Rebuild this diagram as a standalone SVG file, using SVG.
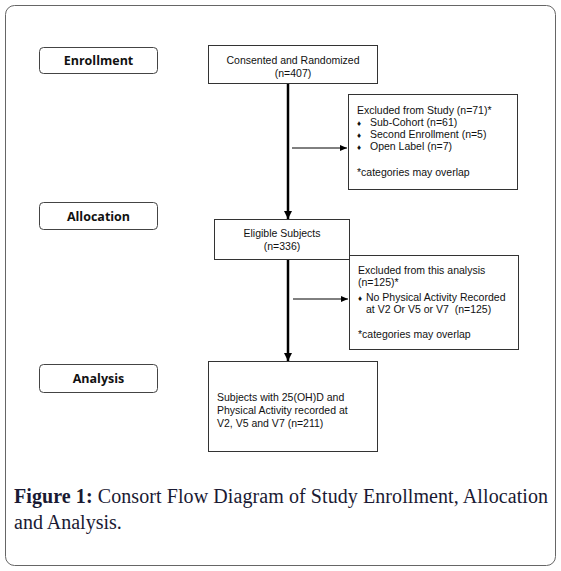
<svg xmlns="http://www.w3.org/2000/svg" width="561" height="571" viewBox="0 0 561 571">
<defs>
<style>
.box{fill:#fff;stroke:#333;stroke-width:1}
.lbl{fill:#fff;stroke:#444;stroke-width:1}
.t{font-family:"Liberation Sans",Arial,sans-serif;font-size:10.5px;fill:#111}
.b{font-size:8px}
.h{font-family:"Open Sans","Liberation Sans",sans-serif;font-size:12.5px;font-weight:bold;fill:#111}
.cap{font-family:"Liberation Serif","Times New Roman",serif;font-size:20px;fill:#1a1a33}
.thick{stroke:#000;stroke-width:2.5;fill:none}
.thin{stroke:#000;stroke-width:1;fill:none}
</style>
<marker id="ah" markerWidth="8" markerHeight="8" refX="7" refY="4" orient="auto" markerUnits="userSpaceOnUse">
<path d="M0,1 L7,4 L0,7 Z" fill="#000"/>
</marker>
<marker id="ahb" markerWidth="10" markerHeight="10" refX="8" refY="5" orient="auto" markerUnits="userSpaceOnUse">
<path d="M0,1 L8,5 L0,9 Z" fill="#000"/>
</marker>
</defs>
<rect x="5.5" y="5.5" width="550" height="560" rx="9" fill="#fff" stroke="#666" stroke-width="1"/>
<g id="connectors">
<line class="thick" x1="288" y1="84" x2="288" y2="219" marker-end="url(#ahb)"/>
<line class="thick" x1="288" y1="260" x2="288" y2="361" marker-end="url(#ahb)"/>
<line class="thin" x1="292" y1="148" x2="347" y2="148" marker-end="url(#ah)"/>
<line class="thin" x1="293" y1="299" x2="348" y2="299" marker-end="url(#ah)"/>
</g>
<g id="enrollment">
<rect class="lbl" x="39.5" y="47.5" width="118" height="26" rx="4"/>
<text class="h" x="98.5" y="65" text-anchor="middle">Enrollment</text>
</g>
<g id="allocation">
<rect class="lbl" x="39.5" y="202.5" width="118" height="27" rx="4"/>
<text class="h" x="98.5" y="220.5" text-anchor="middle">Allocation</text>
</g>
<g id="analysis">
<rect class="lbl" x="39.5" y="364.5" width="118" height="28" rx="4"/>
<text class="h" x="98.5" y="383" text-anchor="middle">Analysis</text>
</g>
<g id="consented">
<rect class="box" x="208.5" y="45.5" width="169" height="38"/>
<text class="t" x="293" y="64" text-anchor="middle">Consented and Randomized</text>
<text class="t" x="293" y="76.5" text-anchor="middle">(n=407)</text>
</g>
<g id="excluded1">
<rect class="box" x="348.5" y="94.5" width="169" height="95"/>
<text class="t" x="357" y="114">Excluded from Study (n=71)*</text>
<text class="t" x="357" y="126"><tspan class="b">♦</tspan><tspan x="370">Sub-Cohort (n=61)</tspan></text>
<text class="t" x="357" y="138"><tspan class="b">♦</tspan><tspan x="370">Second Enrollment (n=5)</tspan></text>
<text class="t" x="357" y="150"><tspan class="b">♦</tspan><tspan x="370">Open Label (n=7)</tspan></text>
<text class="t" x="357" y="176">*categories may overlap</text>
</g>
<g id="eligible">
<rect class="box" x="214.5" y="219.5" width="135" height="40"/>
<text class="t" x="282" y="237" text-anchor="middle">Eligible Subjects</text>
<text class="t" x="282" y="249.5" text-anchor="middle">(n=336)</text>
</g>
<g id="excluded2">
<rect class="box" x="349.5" y="255.5" width="169" height="94"/>
<text class="t" x="358" y="274">Excluded from this analysis</text>
<text class="t" x="358" y="286">(n=125)*</text>
<text class="t" x="358" y="301"><tspan class="b">♦</tspan><tspan x="366">No Physical Activity Recorded</tspan></text>
<text class="t" x="366" y="313">at V2 Or V5 or V7&#160; (n=125)</text>
<text class="t" x="358" y="338">*categories may overlap</text>
</g>
<g id="subjects">
<rect class="box" x="208.5" y="361.5" width="169" height="90"/>
<text class="t" x="217" y="401">Subjects with 25(OH)D and</text>
<text class="t" x="217" y="414">Physical Activity recorded at</text>
<text class="t" x="217" y="427">V2, V5 and V7 (n=211)</text>
</g>
<g id="caption">
<text class="cap" x="14" y="503" textLength="534" lengthAdjust="spacing"><tspan font-weight="bold">Figure 1:</tspan> Consort Flow Diagram of Study Enrollment, Allocation</text>
<text class="cap" x="14" y="529">and Analysis.</text>
</g>
</svg>
